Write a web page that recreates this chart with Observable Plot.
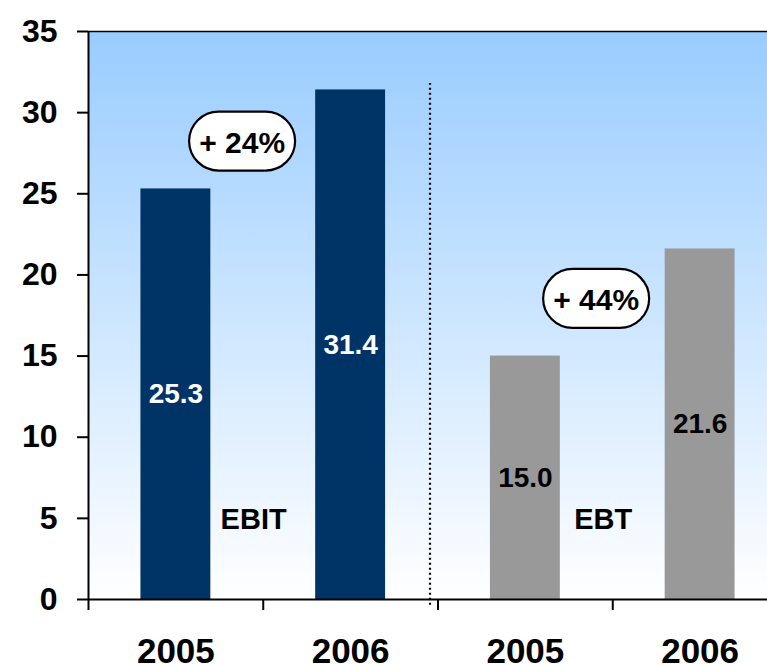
<!DOCTYPE html>
<html>
<head>
<meta charset="utf-8">
<script src="https://cdn.jsdelivr.net/npm/d3@7"></script>
<script src="https://cdn.jsdelivr.net/npm/@observablehq/plot@0.6"></script>
<style>
  html, body { margin: 0; padding: 0; background: #ffffff; }
  #chart { width: 767px; height: 665px; overflow: hidden; }
</style>
</head>
<body>
<div id="chart"></div>
<script>
// ---- data ----
const segments = ["EBIT", "EBIT", "EBT", "EBT"];
const years = ["2005", "2006", "2005", "2006"];
const values = [25.3, 31.4, 15.0, 21.6];
const segmentNames = ["EBIT", "EBT"];
const growthLabels = ["+ 24%", "+ 44%"];
const yTicks = [0, 5, 10, 15, 20, 25, 30, 35];
const xTicks = [0, 1, 2, 3];

// ---- styles ----
const navy = "#003366";
const grey = "#999999";
const FONT = "'Liberation Sans', Arial, Helvetica, sans-serif";

const bars = values.map((v, i) => ({
  segment: segments[i], year: years[i], value: v, i,
  x1: i + 0.3, x2: i + 0.7, xc: i + 0.5
}));
// annotation anchors (data units): segment labels and growth bubbles
const segLabels = segmentNames.map((s, g) => ({ text: s, x: g * 2 + 0.945, y: 4.9 }));
const bubbles = growthLabels.map((t, g) => ({ text: t, x: g * 2 + [0.879, 0.905][g], y: [28.25, 18.55][g] }));

// stadium-shaped symbol for the growth bubbles
const stadium = {
  draw(ctx) {
    const w = 53, h = 29.5, r = 29.5;
    ctx.moveTo(-w + r, -h);
    ctx.lineTo(w - r, -h);
    ctx.arc(w - r, 0, r, -Math.PI / 2, Math.PI / 2);
    ctx.lineTo(-w + r, h);
    ctx.arc(-w + r, 0, r, Math.PI / 2, 3 * Math.PI / 2);
    ctx.closePath();
  }
};

const chart = Plot.plot({
  width: 767,
  height: 665,
  marginLeft: 88,
  marginRight: 0,
  marginTop: 31,
  marginBottom: 66,
  style: { fontFamily: FONT, fontWeight: "bold", fontSize: "32px", color: "black", background: "white" },
  x: { domain: [0, 4], range: [88, 787], ticks: xTicks, tickSize: 11, tickFormat: () => "", label: null },
  y: { domain: [0, 35], range: [599, 31], ticks: yTicks, tickSize: 11, tickPadding: 20, label: null },
  marks: [
    Plot.rect([0], { x1: 0, x2: 4, y1: 0, y2: 35, fill: "url(#bgGrad)" }),
    Plot.rectY(bars, { x1: "x1", x2: "x2", y1: 0, y2: "value", fill: d => d.segment === "EBIT" ? navy : grey }),
    Plot.ruleX([2], { y1: -0.35, y2: 31.8, dx: -8, stroke: "black", strokeWidth: 2.2, strokeDasharray: "2,3" }),
    Plot.ruleX([0], { y1: 0, y2: 35, stroke: "black", strokeWidth: 2 }),
    Plot.ruleY([35], { x1: 0, x2: 4, stroke: "black", strokeWidth: 1.6 }),
    Plot.ruleY([0], { x1: 0, x2: 4, stroke: "black", strokeWidth: 2 }),
    Plot.text(bars, {
      x: "xc", y: d => d.value / 2, text: d => d.value.toFixed(1),
      fill: d => d.segment === "EBIT" ? "white" : "black",
      fontSize: 28, fontWeight: "bold", fontFamily: FONT
    }),
    Plot.text(segLabels, { x: "x", y: "y", text: "text", fill: "black", fontSize: 29, fontWeight: "bold", fontFamily: FONT }),
    Plot.dot(bubbles, { x: "x", y: "y", r: 30, symbol: stadium, fill: "white", stroke: "black", strokeWidth: 2.2 }),
    Plot.text(bubbles, { x: "x", y: "y", dy: 2, text: "text", fill: "black", fontSize: 30, fontWeight: "bold", fontFamily: FONT }),
    Plot.text(bars, { x: "xc", y: 0, dy: 52, text: "year", fill: "black", fontSize: 35, fontWeight: "bold", fontFamily: FONT })
  ]
});

document.getElementById("chart").appendChild(chart);

// gradient definition for the plot background
const svg = chart.tagName.toLowerCase() === "svg" ? chart : chart.querySelector("svg");
const defs = d3.select(svg).insert("defs", ":first-child");
const grad = defs.append("linearGradient")
  .attr("id", "bgGrad").attr("x1", 0).attr("y1", 0).attr("x2", 0).attr("y2", 1);
grad.append("stop").attr("offset", "0%").attr("stop-color", "#99ccff");
grad.append("stop").attr("offset", "100%").attr("stop-color", "#ffffff");

// thicker axis ticks
d3.select(svg).selectAll('[aria-label^="y-axis"] line, [aria-label^="y-axis"] path, [aria-label^="x-axis"] line, [aria-label^="x-axis"] path')
  .attr("stroke-width", 2).attr("stroke", "black");
</script>
</body>
</html>
